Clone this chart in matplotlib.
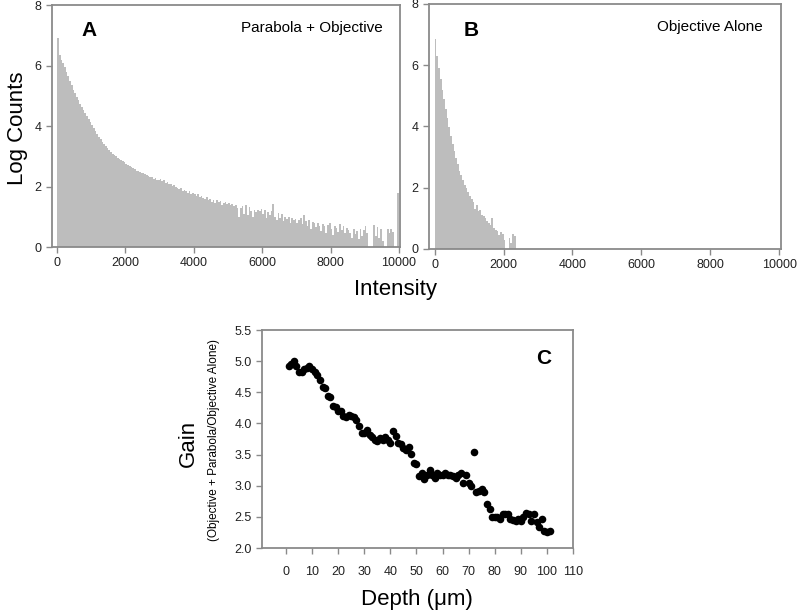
import numpy as np
import matplotlib
matplotlib.use("Agg")
import matplotlib.pyplot as plt

plt.rcParams['font.family'] = ['Liberation Sans', 'DejaVu Sans']

#***************************** Data ***************************************
bin_width = 50

# Panel A: log counts, parabola + objective (bins of 50 starting at 0)
parabola_counts = [
    6.9, 6.35, 6.2, 6.08, 5.95, 5.8, 5.65, 5.5, 5.35, 5.2,
    5.08, 4.96, 4.85, 4.74, 4.63, 4.52, 4.42, 4.32, 4.22, 4.12,
    4.02, 3.93, 3.83, 3.73, 3.64, 3.56, 3.48, 3.41, 3.34, 3.27,
    3.2, 3.13, 3.07, 3.03, 3.0, 2.96, 2.92, 2.88, 2.84, 2.8,
    2.76, 2.72, 2.69, 2.64, 2.6, 2.58, 2.53, 2.52, 2.48, 2.46,
    2.44, 2.4, 2.38, 2.35, 2.32, 2.3, 2.26, 2.27, 2.22, 2.2,
    2.24, 2.18, 2.2, 2.12, 2.15, 2.08, 2.1, 2.02, 2.05, 1.98,
    1.96, 1.92, 1.95, 1.86, 1.9, 1.84, 1.8, 1.86, 1.76, 1.78,
    1.74, 1.7, 1.76, 1.66, 1.68, 1.62, 1.6, 1.66, 1.55, 1.58,
    1.5, 1.56, 1.45, 1.55, 1.48, 1.52, 1.4, 1.46, 1.5, 1.42,
    1.45, 1.38, 1.42, 1.36, 1.4, 1.3, 1.0, 1.28, 1.35, 1.1,
    1.38, 1.05, 1.33, 1.2, 1.0, 1.22, 1.15, 1.24, 1.18, 1.25,
    1.1, 1.22, 0.95, 1.15, 1.05, 1.2, 1.42, 1.0, 0.9, 1.12,
    0.95, 1.1, 0.85, 1.0, 0.92, 0.98, 0.78, 0.95, 0.88, 0.92,
    0.8, 0.9, 0.95, 0.75, 1.05, 0.85, 0.7, 0.88, 0.6, 0.82,
    0.78, 0.65, 0.8, 0.7, 0.52, 0.75, 0.68, 0.45, 0.72, 0.78,
    0.6, 0.4, 0.7, 0.62, 0.5, 0.75, 0.55, 0.68, 0.45, 0.62,
    0.55, 0.48, 0.3, 0.58, 0.42, 0.52, 0.25, 0.6, 0.35, 0.55,
    0.7, 0.45, 0.0, 0.0, 0.0, 0.72, 0.35, 0.65, 0.3, 0.6,
    0.2, 0.0, 0.0, 0.6, 0.45, 0.6, 0.5, 0.0, 0.0, 1.8,
]

# Panel B: log counts, objective alone
objective_counts = [
    6.85, 6.3, 5.9, 5.55, 5.2, 4.9, 4.58, 4.28, 3.98, 3.7,
    3.43, 3.2, 2.98, 2.76, 2.55, 2.4, 2.25, 2.1, 1.98, 1.85,
    1.72, 1.62, 1.55, 1.3, 1.42, 1.25, 1.28, 1.12, 1.08, 1.0,
    0.92, 0.85, 0.78, 1.0, 0.7, 0.62, 0.58, 0.45, 0.55, 0.5,
    0.3, 0.0, 0.0, 0.35, 0.2, 0.5, 0.42,
]

# Panel C: gain vs depth
depth = list(range(1, 102))
gain = [
    4.93, 4.96, 5.01, 4.93, 4.83, 4.82, 4.88, 4.89, 4.93, 4.87,
    4.83, 4.78, 4.70, 4.59, 4.57, 4.44, 4.42, 4.28, 4.26, 4.20,
    4.20, 4.12, 4.10, 4.13, 4.12, 4.10, 4.05, 3.96, 3.85, 3.84,
    3.89, 3.81, 3.79, 3.74, 3.72, 3.76, 3.74, 3.79, 3.73, 3.69,
    3.88, 3.80, 3.69, 3.67, 3.61, 3.57, 3.62, 3.51, 3.37, 3.35,
    3.15, 3.21, 3.10, 3.17, 3.26, 3.17, 3.13, 3.20, 3.17, 3.18,
    3.21, 3.17, 3.17, 3.15, 3.12, 3.17, 3.21, 3.05, 3.17, 3.05,
    3.00, 3.54, 2.90, 2.92, 2.95, 2.90, 2.70, 2.63, 2.50, 2.50,
    2.50, 2.46, 2.55, 2.55, 2.54, 2.47, 2.45, 2.43, 2.47, 2.43,
    2.50, 2.56, 2.54, 2.43, 2.54, 2.42, 2.34, 2.46, 2.28, 2.26,
    2.27,
]

grey_fill = '#bdbdbd'
spine_col = '#8a8a8a'
tick_col = '#222222'

def style_axes(ax):
    for s in ax.spines.values():
        s.set_color(spine_col)
        s.set_linewidth(1.3)
    ax.tick_params(direction='out', length=4, width=1, color=spine_col,
                   labelsize=9, labelcolor=tick_col, top=False, right=False)

def draw_hist(ax, counts):
    edges = np.arange(len(counts) + 1) * bin_width
    # step-filled area, one polygon for the whole histogram
    vals = list(counts) + [counts[-1]]
    ax.fill_between(edges, 0, vals, step='post', facecolor=grey_fill,
                    edgecolor='none', linewidth=0)

fig = plt.figure(figsize=(8, 6.11), dpi=100)

#***************************** Panel A ***************************************
axA = fig.add_axes([0.065, 0.5957, 0.435, 0.396])
draw_hist(axA, parabola_counts)
axA.set_xlim(-150, 10030)
axA.set_ylim(0, 8)
axA.set_xticks([0, 2000, 4000, 6000, 8000, 10000])
axA.set_yticks([0, 2, 4, 6, 8])
style_axes(axA)
axA.text(0.085, 0.935, "A", transform=axA.transAxes, fontsize=15, fontweight='bold', va='top')
axA.text(0.95, 0.935, "Parabola + Objective", transform=axA.transAxes, fontsize=11,
         ha='right', va='top')

#***************************** Panel B ***************************************
axB = fig.add_axes([0.536, 0.5925, 0.44, 0.401])
draw_hist(axB, objective_counts)
axB.set_xlim(-170, 10050)
axB.set_ylim(0, 8)
axB.set_xticks([0, 2000, 4000, 6000, 8000, 10000])
axB.set_yticks([0, 2, 4, 6, 8])
style_axes(axB)
axB.text(0.1, 0.93, "B", transform=axB.transAxes, fontsize=15, fontweight='bold', va='top')
axB.text(0.95, 0.935, "Objective Alone", transform=axB.transAxes, fontsize=11,
         ha='right', va='top')

fig.text(0.0225, 0.79, "Log Counts", rotation=90, fontsize=16, ha='center', va='center')
fig.text(0.495, 1 - 290 / 611, "Intensity", fontsize=16, ha='center', va='center')

#***************************** Panel C ***************************************
axC = fig.add_axes([0.3275, 0.1031, 0.3888, 0.3568])
axC.scatter(depth, gain, s=30, color='black', zorder=3, linewidths=0)
axC.set_xlim(-9.2, 110)
axC.set_ylim(2.0, 5.5)
axC.set_xticks(range(0, 111, 10))
axC.set_yticks([2.0, 2.5, 3.0, 3.5, 4.0, 4.5, 5.0, 5.5])
axC.set_yticklabels(["2.0", "2.5", "3.0", "3.5", "4.0", "4.5", "5.0", "5.5"])
style_axes(axC)
axC.tick_params(axis='x', pad=9)
axC.text(0.93, 0.87, "C", transform=axC.transAxes, fontsize=15, fontweight='bold',
         ha='right', va='center')

fig.text(188 / 800, 1 - 443 / 611, "Gain", rotation=90, fontsize=16, ha='center', va='center')
fig.text(214 / 800, 1 - 440 / 611, "(Objective + Parabola/Objective Alone)", rotation=90,
         fontsize=8.5, ha='center', va='center')
fig.text(417 / 800, 1 - 600 / 611, "Depth (\u03bcm)", fontsize=16, ha='center', va='center')

fig.savefig("out.png", dpi=100)
